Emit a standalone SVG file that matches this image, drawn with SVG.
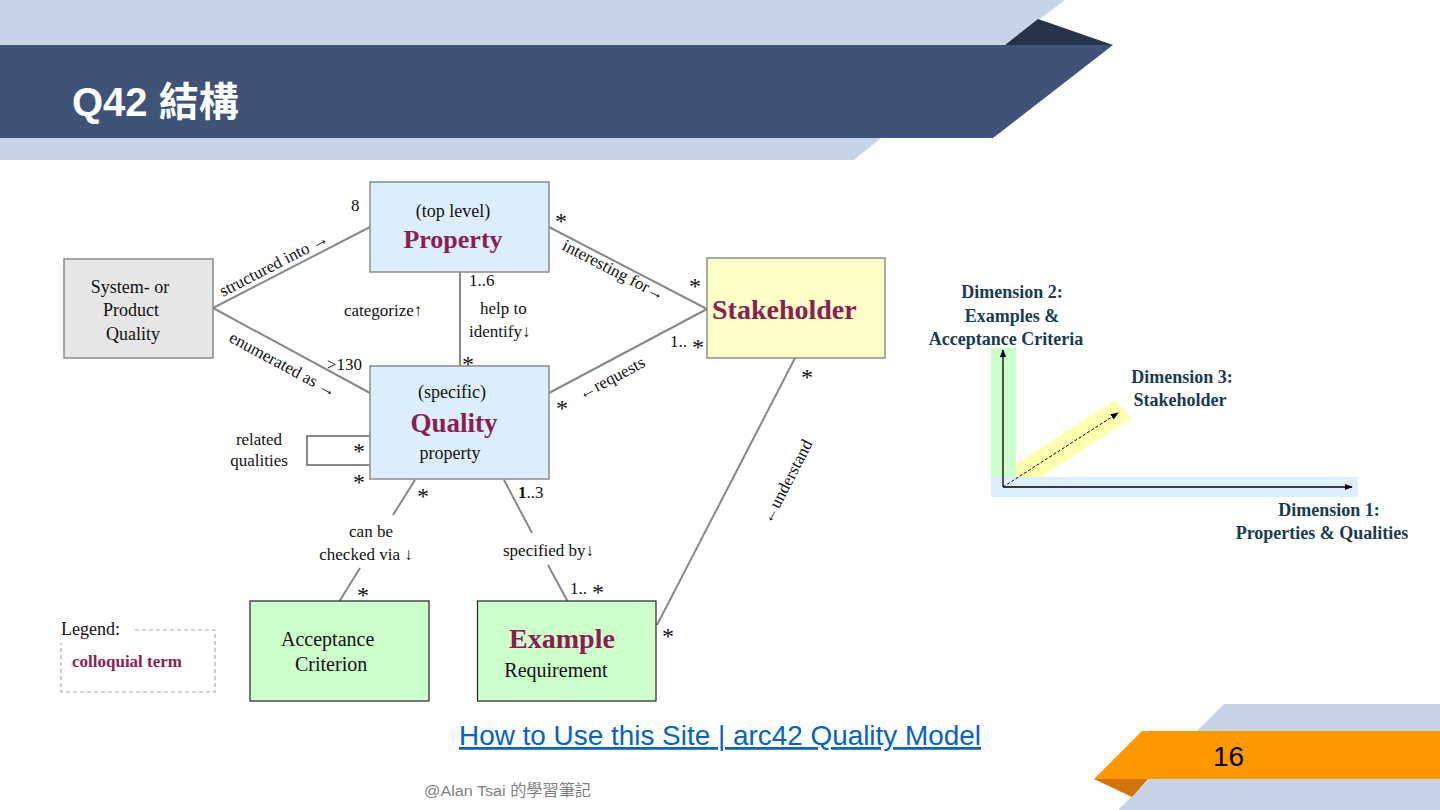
<svg xmlns="http://www.w3.org/2000/svg" width="1440" height="810" viewBox="0 0 1440 810">
<defs>
<style>
.serif{font-family:"Liberation Serif","Times New Roman",serif;fill:#111;}
.lbl{font-family:"Liberation Serif","Times New Roman",serif;font-size:17px;fill:#111;}
.node-t{font-family:"Liberation Serif","Times New Roman",serif;font-size:18px;fill:#111;}
.big{font-family:"Liberation Serif","Times New Roman",serif;font-weight:bold;fill:#8B1E52;}
.ast{font-family:"Liberation Serif","Times New Roman",serif;font-size:24px;fill:#111;text-anchor:middle;}
.conn{stroke:#888;stroke-width:2;fill:none;}
.dim{font-family:"Liberation Serif","Times New Roman",serif;font-weight:bold;font-size:18px;fill:#173C50;text-anchor:middle;}
.ax{stroke:#000;stroke-width:1.3;fill:none;}
</style>
<marker id="ah" viewBox="0 0 10 10" refX="9" refY="5" markerWidth="8" markerHeight="8" markerUnits="userSpaceOnUse" orient="auto">
<path d="M0,1 L10,5 L0,9 Z" fill="#000"/>
</marker>
</defs>
<rect x="0" y="0" width="1440" height="810" fill="#fff"/>
<!-- header -->
<g id="header">
<polygon points="0,0 1065,0 1005,45 0,45" fill="#C7D4E8"/>
<polygon points="1038,19 1113,45 1005,45" fill="#27334A"/>
<polygon points="0,45 1113,45 993,138 0,138" fill="#3F5379"/>
<polygon points="0,138 881,138 854,160 0,160" fill="#C7D4E8"/>
<text x="72" y="116" font-family="'Liberation Sans','Noto Sans CJK TC',sans-serif" font-weight="bold" font-size="40" fill="#fff">Q42 結構</text>
</g>
<!-- footer -->
<g id="footer">
<polygon points="1224,704 1440,704 1440,810 1118,810" fill="#C7D4E8"/>
<polygon points="1142,731 1440,731 1440,779 1094,779" fill="#FF9900"/>
<polygon points="1094,779 1132,797 1148,779" fill="#D2730F"/>
<text x="1213" y="766" font-family="'Liberation Sans',Arial,sans-serif" font-size="28" fill="#000">16</text>
<text x="459" y="745" font-family="'Liberation Sans',Arial,sans-serif" font-size="27.5" fill="#0563C1" text-decoration="underline" textLength="522" lengthAdjust="spacingAndGlyphs">How to Use this Site | arc42 Quality Model</text>
<text x="424" y="796" font-family="'Liberation Sans','Noto Sans CJK TC',sans-serif" font-size="15.5" fill="#7F7F7F" textLength="167" lengthAdjust="spacingAndGlyphs">@Alan Tsai 的學習筆記</text>
</g>
<!-- connectors -->
<g id="connectors">
<line class="conn" x1="213" y1="308" x2="370" y2="227"/>
<line class="conn" x1="213" y1="308" x2="370" y2="393"/>
<line class="conn" x1="460" y1="272" x2="460" y2="366"/>
<line class="conn" x1="549" y1="227" x2="707" y2="309"/>
<line class="conn" x1="549" y1="393" x2="707" y2="309"/>
<line class="conn" x1="795" y1="358" x2="657" y2="625"/>
<polyline class="conn" points="370,436 307,436 307,465 370,465"/>
<line class="conn" x1="415" y1="480" x2="393" y2="515"/>
<line class="conn" x1="360" y1="568" x2="339" y2="602"/>
<line class="conn" x1="504" y1="480" x2="532" y2="533"/>
<line class="conn" x1="548" y1="565" x2="568" y2="602"/>
<!-- labels -->
<text class="lbl" transform="translate(223,297) rotate(-27.3)">structured into →</text>
<text class="lbl" transform="translate(228,341) rotate(28.4)">enumerated as →</text>
<text class="lbl" transform="translate(561,249) rotate(27.4)">interesting for→</text>
<text class="lbl" transform="translate(582,400) rotate(-27.9)">←requests</text>
<text class="lbl" text-anchor="middle" transform="translate(792,484) rotate(-62.7)">←understand</text>
<text class="lbl" x="351" y="211">8</text>
<text class="lbl" x="327" y="370">&gt;130</text>
<text class="lbl" x="344" y="316">categorize↑</text>
<text class="lbl" x="469" y="286">1..6</text>
<text class="lbl" x="480" y="314">help to</text>
<text class="lbl" x="469" y="337">identify↓</text>
<text class="lbl" x="670" y="347">1..</text>
<text class="lbl" x="570" y="594">1..</text>
<text class="lbl" x="518" y="498"><tspan font-weight="bold">1</tspan>..3</text>
<text class="lbl" text-anchor="middle" x="371" y="537">can be</text>
<text class="lbl" text-anchor="middle" x="366" y="560">checked via ↓</text>
<text class="lbl" x="503" y="556">specified by↓</text>
<text class="lbl" text-anchor="middle" x="259" y="445">related</text>
<text class="lbl" text-anchor="middle" x="259" y="466">qualities</text>
<text class="ast" x="561" y="229">*</text>
<text class="ast" x="695" y="294">*</text>
<text class="ast" x="468" y="372">*</text>
<text class="ast" x="698" y="355">*</text>
<text class="ast" x="562" y="416">*</text>
<text class="ast" x="807" y="385">*</text>
<text class="ast" x="359" y="459">*</text>
<text class="ast" x="359" y="490">*</text>
<text class="ast" x="423" y="504">*</text>
<text class="ast" x="363" y="603">*</text>
<text class="ast" x="598" y="600">*</text>
<text class="ast" x="668" y="644">*</text>
</g>
<!-- nodes -->
<g id="node-system">
<rect x="64" y="259" width="149" height="99" fill="#E6E6E6" stroke="#8C8C8C" stroke-width="1.5"/>
<text class="node-t" text-anchor="middle" x="130" y="293">System- or</text>
<text class="node-t" text-anchor="middle" x="131" y="316">Product</text>
<text class="node-t" text-anchor="middle" x="133" y="340">Quality</text>
</g>
<g id="node-property">
<rect x="370" y="182" width="179" height="90" fill="#DCEEFC" stroke="#8C8C8C" stroke-width="1.5"/>
<text class="node-t" text-anchor="middle" x="453" y="217">(top level)</text>
<text class="big" font-size="26" text-anchor="middle" x="453" y="248">Property</text>
</g>
<g id="node-quality">
<rect x="370" y="366" width="179" height="113" fill="#DCEEFC" stroke="#8C8C8C" stroke-width="1.5"/>
<text class="node-t" text-anchor="middle" x="452" y="398">(specific)</text>
<text class="big" font-size="27" text-anchor="middle" x="454" y="432">Quality</text>
<text class="node-t" text-anchor="middle" x="450" y="459">property</text>
</g>
<g id="node-stakeholder">
<rect x="707" y="258" width="178" height="100" fill="#FFFFC8" stroke="#8C8C8C" stroke-width="1.5"/>
<text class="big" font-size="28" x="712" y="319">Stakeholder</text>
</g>
<g id="node-acceptance">
<rect x="250" y="601" width="179" height="100" fill="#CCFFCC" stroke="#222" stroke-width="1.2"/>
<text class="serif" font-size="20" x="281" y="646">Acceptance</text>
<text class="serif" font-size="20" x="295" y="671">Criterion</text>
</g>
<g id="node-example">
<rect x="477.5" y="601" width="178.5" height="100" fill="#CCFFCC" stroke="#222" stroke-width="1.2"/>
<text class="big" font-size="28" text-anchor="middle" x="562" y="648">Example</text>
<text class="serif" font-size="20" text-anchor="middle" x="556" y="677">Requirement</text>
</g>
<g id="legend">
<text class="node-t" x="61" y="635">Legend:</text>
<path d="M135,630 H215 V692 H61 V643" fill="none" stroke="#AAA" stroke-width="1.2" stroke-dasharray="4 3"/>
<text class="big" font-size="17" x="72" y="667">colloquial term</text>
</g>
<!-- dimensions -->
<g id="dimensions">
<polygon points="997,476 1115,400 1132,418 1010,496" fill="#FFFFB0"/>
<rect x="991" y="348" width="25" height="149" fill="#CCFFCC"/>
<rect x="991" y="477" width="367" height="20" fill="#DDEEFD"/>
<line class="ax" x1="1003" y1="487" x2="1003" y2="350" marker-end="url(#ah)"/>
<line class="ax" x1="1003" y1="487" x2="1352" y2="487" marker-end="url(#ah)"/>
<line x1="1003" y1="487" x2="1118" y2="413" stroke="#000" stroke-width="1" stroke-dasharray="3 2" marker-end="url(#ah)"/>
<text class="dim" x="1012" y="298">Dimension 2:</text>
<text class="dim" x="1012" y="322">Examples &amp;</text>
<text class="dim" x="1006" y="345">Acceptance Criteria</text>
<text class="dim" x="1182" y="383">Dimension 3:</text>
<text class="dim" x="1180" y="406">Stakeholder</text>
<text class="dim" x="1329" y="516">Dimension 1:</text>
<text class="dim" x="1322" y="539">Properties &amp; Qualities</text>
</g>
</svg>
